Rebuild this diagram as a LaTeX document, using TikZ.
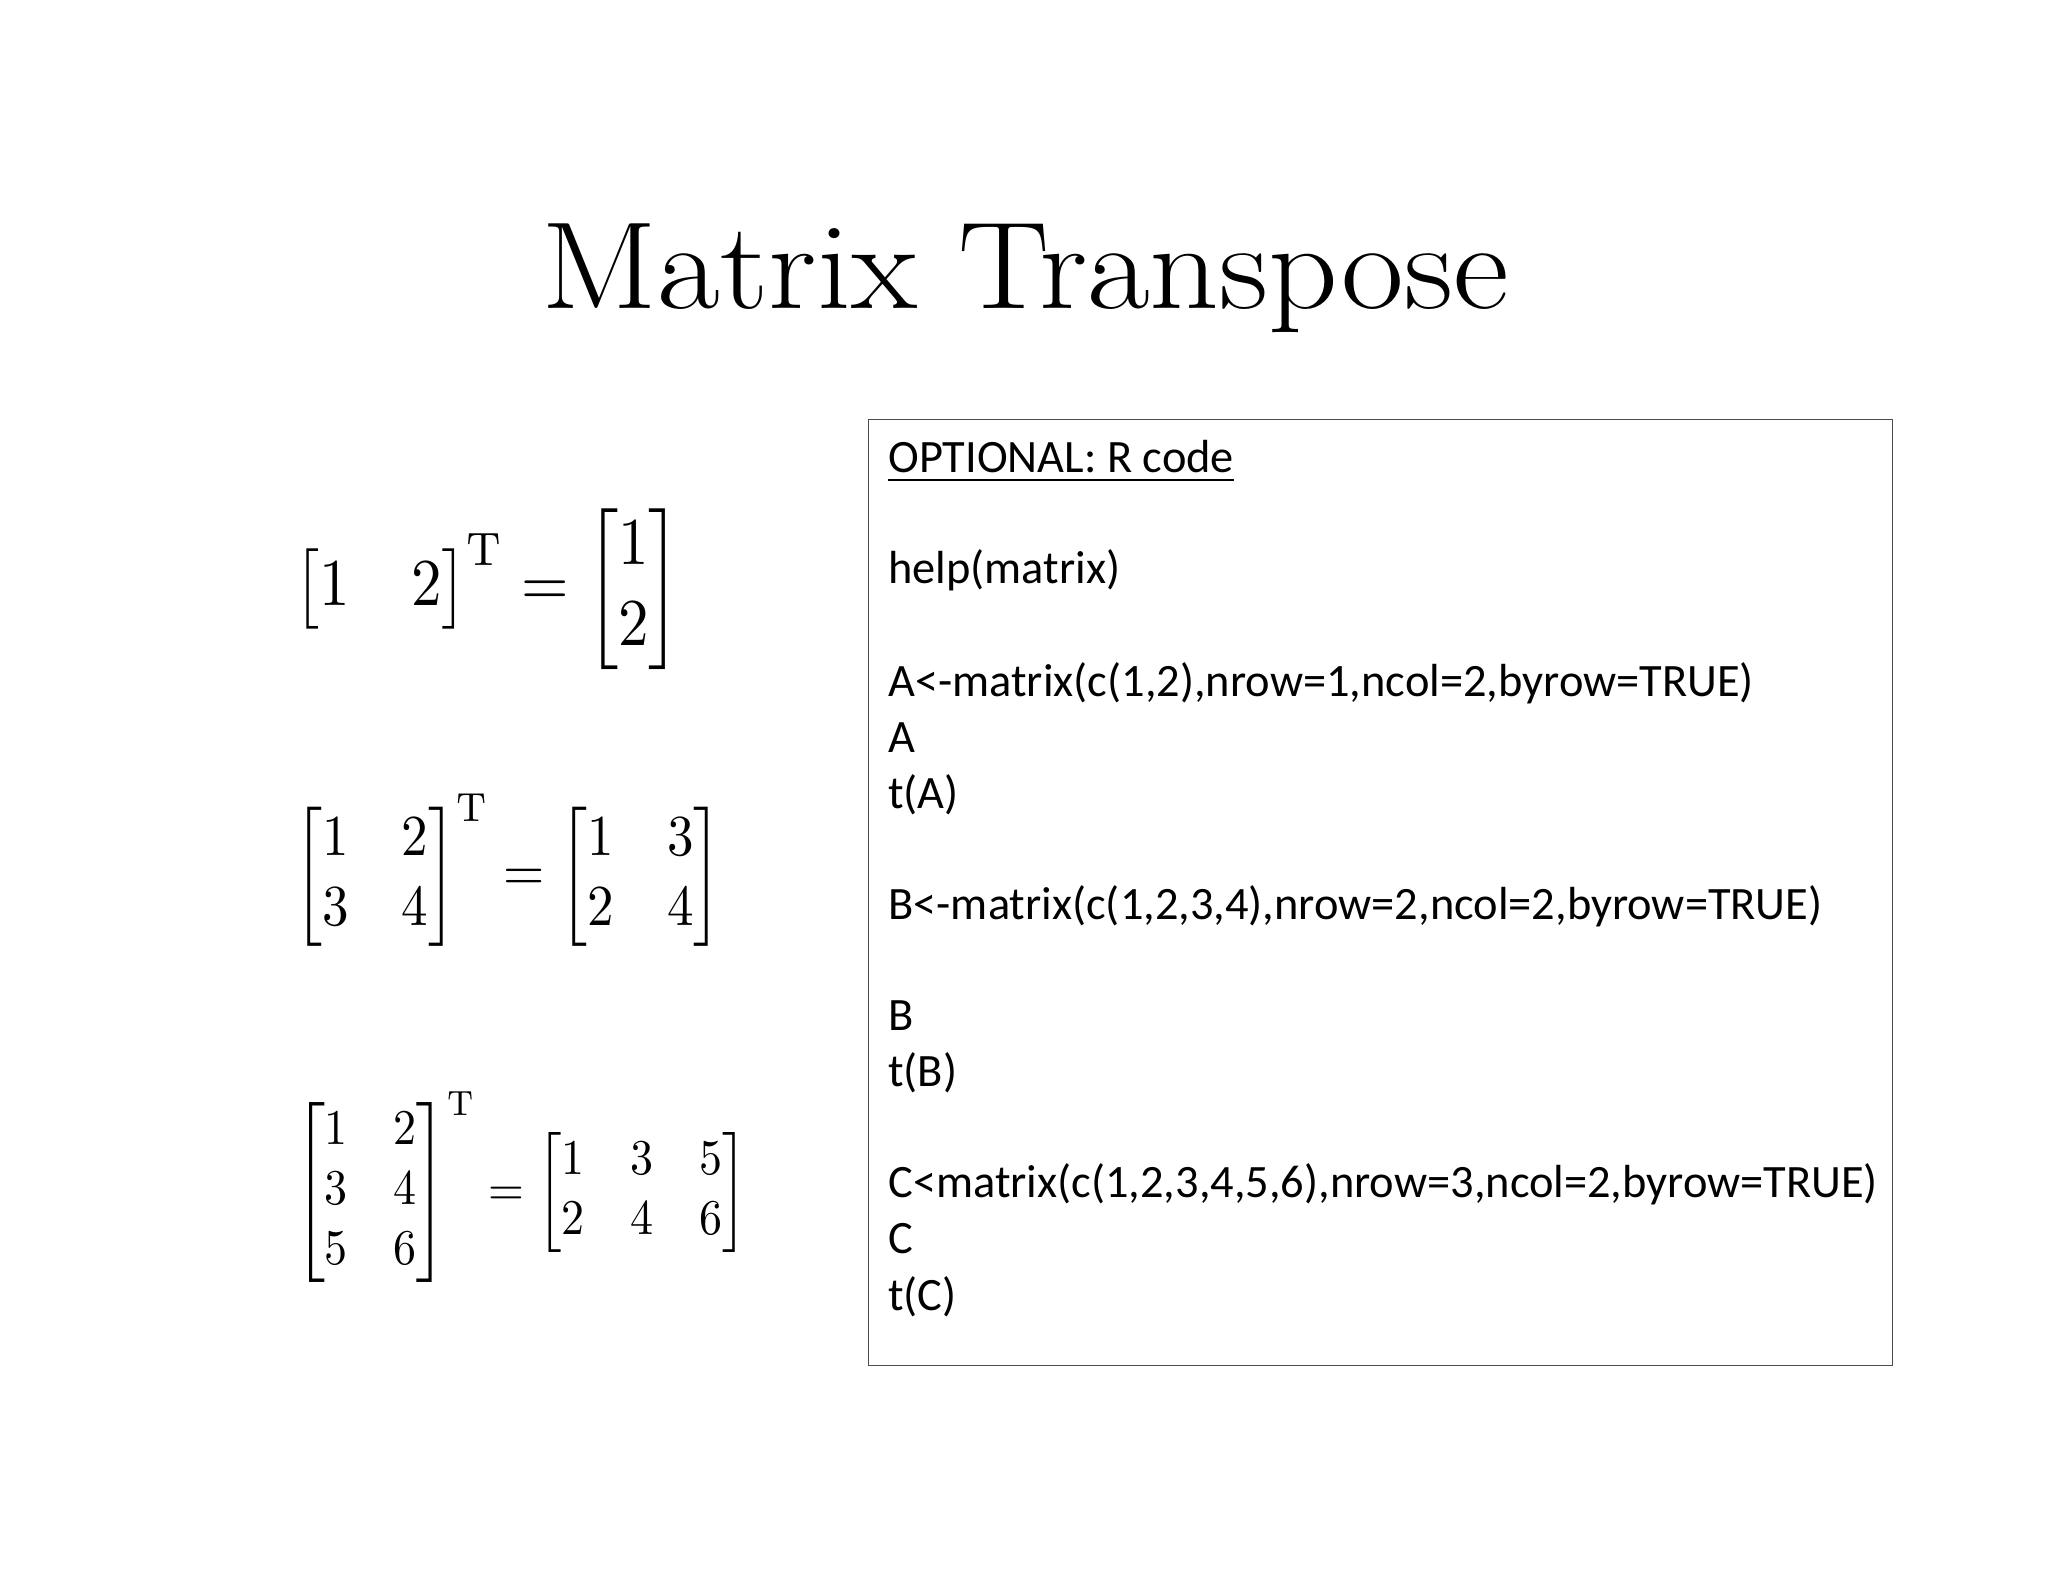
\documentclass[tikz,border=0pt]{standalone}
\usepackage{amsmath}
\usepackage{fontspec}
\newfontfamily\codefont{Carlito}
\begin{document}
\begin{tikzpicture}[x=1.306pt,y=-1.306pt,
  code/.style={anchor=base west,inner sep=0pt,font=\codefont\fontsize{46.4}{54}\selectfont},
  eq/.style={anchor=west,inner sep=0pt}]
\useasboundingbox (0,0) rectangle (1568,1211);
\node[anchor=base,inner sep=0pt,font=\fontsize{124}{140}\selectfont] (title) at (785,236) {\scalebox{1.1}[1.0]{Matrix Transpose}};
\draw[line width=0.8pt,black!70] (665,321) rectangle (1449,1045);
\node[code] (l0) at (680,362) {OPTIONAL: R code};
\draw[line width=2.2pt] ([yshift=-7pt]l0.base west) -- ([yshift=-7pt]l0.base east);
\node[code] (l1) at (680,447) {help(matrix)};
\node[code] (l2) at (680,533) {A<-matrix(c(1,2),nrow=1,ncol=2,byrow=TRUE)};
\node[code] (l3) at (680,576) {A};
\node[code] (l4) at (680,619) {t(A)};
\node[code] (l5) at (680,704) {B<-matrix(c(1,2,3,4),nrow=2,ncol=2,byrow=TRUE)};
\node[code] (l6) at (680,789) {B};
\node[code] (l7) at (680,832) {t(B)};
\node[code] (l8) at (680,917) {C<matrix(c(1,2,3,4,5,6),nrow=3,ncol=2,byrow=TRUE)};
\node[code] (l9) at (680,960) {C};
\node[code] (l10) at (680,1003) {t(C)};
\node[eq] (e1) at (225,451) {\scalebox{6.1}[6.7]{$\begin{bmatrix}1&2\end{bmatrix}^{\mathrm T}=\begin{bmatrix}1\\2\end{bmatrix}$}};
\node[eq] (e2) at (225,666) {\scalebox{5.3}[5.8]{$\begin{bmatrix}1&2\\3&4\end{bmatrix}^{\mathrm T}=\begin{bmatrix}1&3\\2&4\end{bmatrix}$}};
\node[eq] (e3) at (225,909) {\scalebox{4.6}[5.0]{$\begin{bmatrix}1&2\\3&4\\5&6\end{bmatrix}^{\mathrm T}=\begin{bmatrix}1&3&5\\2&4&6\end{bmatrix}$}};
\end{tikzpicture}
\end{document}
